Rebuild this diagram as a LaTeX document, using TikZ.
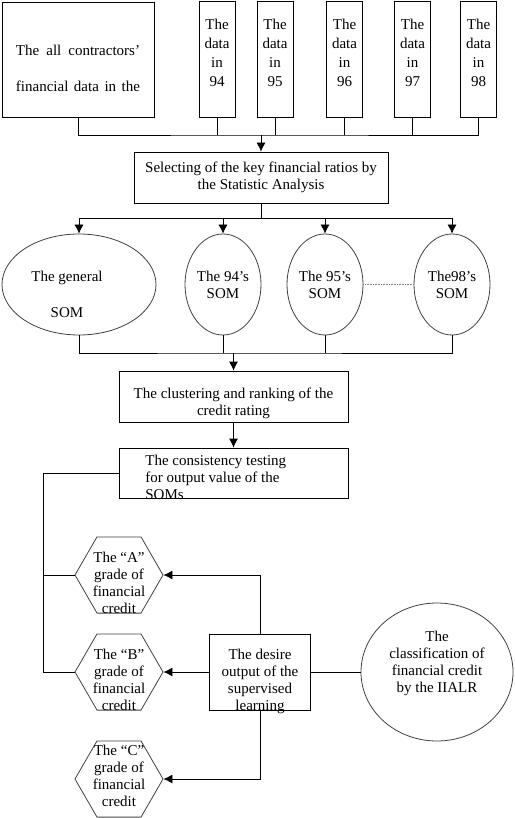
\documentclass[tikz,border=0pt]{standalone}
\usepackage{fontspec}
\setmainfont{Liberation Serif}
\usetikzlibrary{arrows.meta,shapes.geometric}
\begin{document}
\begin{tikzpicture}[x=1pt,y=-1pt,>={Latex[length=9pt,width=9pt]},line width=0.8pt,
  font=\fontsize{15}{17}\selectfont,
  box/.style={draw,inner sep=0},
  oval/.style={draw=black!75,ellipse,inner sep=0},
  hexa/.style={draw=black!75,regular polygon,regular polygon sides=6,minimum size=88pt,inner sep=0},
  txt/.style={align=center,inner sep=0}]
\useasboundingbox (0,0) rectangle (514,818);
\node[box,minimum width=152pt,minimum height=115pt] (all) at (78,59.5) {};
\node[txt,align=left] (allt) at (78,68) {\makebox[124pt][s]{The all contractors'}\\[19pt]\makebox[124pt][s]{financial data in the}};
\foreach \yr/\x in {94/217,95/275,96/344.5,97/412.5,98/478.5}{
  \node[box,minimum width=36pt,minimum height=116pt] (d\yr) at (\x,59) {};
  \node[txt] (t\yr) at (\x,53) {The\\[2pt]data\\[2pt]in\\[2pt]\yr};
}
\coordinate (b1) at (261,135);
\draw (all.south) |- (b1) -| (d98.south);
\foreach \yr in {94,...,97} \draw (d\yr.south) -- (d\yr.south |- b1);
\node[box,minimum width=254pt,minimum height=51pt,align=center] (sel) at (261,177.5) {Selecting of the key financial ratios by\\the Statistic Analysis};
\draw[->] (b1) -- (sel.north);
\node[oval,minimum width=154pt,minimum height=101pt] (gen) at (79,284.5) {};
\node[txt] (gent) at (67,294) {The general\\[19pt]SOM};
\node[oval,minimum width=76pt,minimum height=101pt,align=center] (s94) at (223,284.5) {The 94's\\SOM};
\node[oval,minimum width=76pt,minimum height=101pt,align=center] (s95) at (325,284.5) {The 95's\\SOM};
\node[oval,minimum width=76pt,minimum height=101pt,align=center] (s98) at (452,284.5) {The98's\\SOM};
\coordinate (b2) at (261,218);
\draw (sel.south) -- (b2);
\draw[->] (b2) -| (gen.north);
\draw[->] (b2) -| (s98.north);
\draw[->] (s94.north |- b2) -- (s94.north);
\draw[->] (s95.north |- b2) -- (s95.north);
\draw[densely dotted,black!50,line width=0.6pt] (s95.east) -- (s98.west);
\node[box,minimum width=229pt,minimum height=51pt] (clu) at (233.5,396.5) {};
\node[txt] (clut) at (233.5,403) {The clustering and ranking of the\\credit rating};
\coordinate (b3) at (233.5,353);
\draw (gen.south) |- (b3) -| (s98.south);
\draw (s94.south) -- (s94.south |- b3);
\draw (s95.south) -- (s95.south |- b3);
\draw[->] (b3) -- (clu.north);
\node[box,minimum width=229pt,minimum height=50pt] (con) at (233.5,473) {};
\node[txt,align=left,anchor=north west] (cont) at (145,455) {The consistency testing\\for output value of the\\SOMs};
\draw[->] (clu.south) -- (con.north);
\node[hexa] (hA) at (119,575) {};
\node[txt] (hAt) at (119,583) {The ``A''\\grade of\\financial\\credit};
\node[hexa] (hB) at (119,672) {};
\node[txt] (hBt) at (119,680) {The ``B''\\grade of\\financial\\credit};
\node[hexa] (hC) at (119,779) {};
\node[txt] (hCt) at (119,776) {The ``C''\\grade of\\financial\\credit};
\coordinate (lft) at (43,672);
\draw (con.west) -| (lft) -- (hB.west);
\draw (hA.west) -- (hA.west -| lft);
\node[box,minimum width=101pt,minimum height=76pt] (des) at (260,672) {};
\node[txt] (dest) at (260,681) {The desire\\output of the\\supervised\\learning};
\draw[->] (des.north) |- (hA.east);
\draw[->] (des.west) -- (hB.east);
\draw[->] (des.south) |- (hC.east);
\node[oval,minimum width=152pt,minimum height=138pt] (ia) at (437,672) {};
\node[txt] (iat) at (437,663) {The\\classification of\\financial credit\\by the IIALR};
\draw (des.east) -- (ia.west);
\end{tikzpicture}
\end{document}
